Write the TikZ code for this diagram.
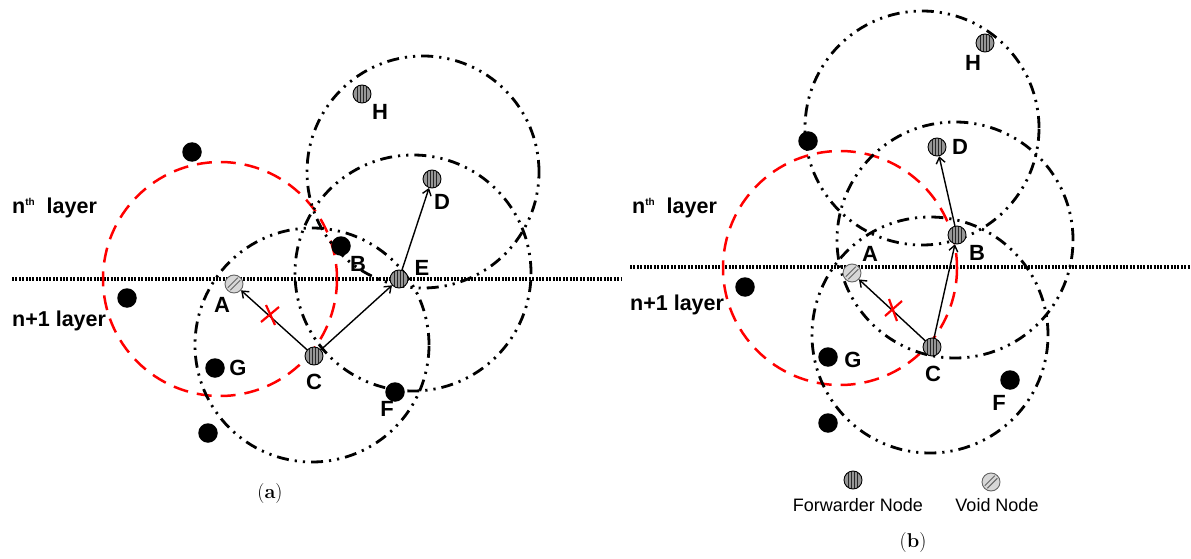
\documentclass[tikz,border=0pt]{standalone}
\usepackage{fontspec}
\newfontfamily\lab{Liberation Sans}
\usetikzlibrary{arrows.meta}
\definecolor{fwdgray}{RGB}{150,150,150}
\definecolor{voidgray}{RGB}{215,215,215}
\definecolor{voidline}{RGB}{100,100,100}
\begin{document}
\begin{tikzpicture}[x=1pt,y=-1pt,
 ddot/.style={line width=2.8pt, dash pattern=on 12pt off 6pt on 2.2pt off 6pt on 2.2pt off 6pt},
 reddash/.style={red, line width=2.5pt, dash pattern=on 15pt off 9pt},
 layerline/.style={line width=3.2pt, dash pattern=on 1.9pt off 1.5pt},
 fwd/.style={circle, draw=black, line width=0.9pt, fill=fwdgray, minimum size=18pt, inner sep=0pt,
   path picture={\foreach \xx in {-4.5,-1.5,1.5,4.5}{\draw[black!85,line width=1.6pt]
     ([xshift=\xx*1pt,yshift=-10pt]path picture bounding box.center) --
     ([xshift=\xx*1pt,yshift=10pt]path picture bounding box.center);}}},
 void/.style={circle, draw=voidline, line width=0.9pt, fill=voidgray, minimum size=18pt, inner sep=0pt,
   path picture={\foreach \dd in {-1.3,1.3}{\draw[voidline,line width=0.9pt]
     ([xshift=-5pt+\dd*1pt,yshift=-5pt-\dd*1pt]path picture bounding box.center) --
     ([xshift=5pt+\dd*1pt,yshift=5pt-\dd*1pt]path picture bounding box.center);}}},
 blk/.style={circle, fill=black, minimum size=19.5pt, inner sep=0pt},
 lbl/.style={font=\lab\bfseries\fontsize{22}{26}\selectfont, inner sep=0pt},
 layer/.style={font=\lab\bfseries\fontsize{21.5}{26}\selectfont, inner sep=0pt, anchor=base west},
 legend/.style={font=\lab\fontsize{18}{20}\selectfont, inner sep=0pt},
 capt/.style={font=\fontsize{20}{24}\selectfont, inner sep=0pt},
 arr/.style={line width=1.4pt, -{Straight Barb[length=6pt,width=9pt]}},
 xmark/.style={red, line width=2.2pt},
]
\useasboundingbox (0,0) rectangle (1191,559);

% ---------------- panel (a) ----------------
\draw[layerline] (12,279) -- (621,279);
\draw[reddash] (220,279) circle[radius=117pt];
\draw[ddot] (312,345) circle[radius=117pt];
\draw[ddot] (413,273) circle[radius=118pt];
\draw[ddot] (423,172) circle[radius=116pt];

\node[layer] (anth) at (12,213) {n\raisebox{8pt}{\fontsize{10}{10}\selectfont th}\ \ layer};
\node[layer] (anp1) at (12,326) {n+1 layer};

\node[void] (aA) at (234,284) {};
\node[blk] (aB) at (341,246) {};
\node[fwd] (aE) at (399,279) {};
\node[fwd] (aD) at (432,179) {};
\node[fwd] (aH) at (362,94) {};
\node[fwd] (aC) at (314,356) {};
\node[blk] (aG) at (215,368) {};
\node[blk] (aF) at (395,392) {};
\node[blk] (a1) at (192,152) {};
\node[blk] (a2) at (127,298) {};
\node[blk] (a3) at (208,433) {};

\node[lbl] (aAl) at (222,305) {A};
\node[lbl] (aBl) at (358,264) {B};
\node[lbl] (aEl) at (422,268) {E};
\node[lbl] (aDl) at (442,202) {D};
\node[lbl] (aHl) at (380,112) {H};
\node[lbl] (aCl) at (314,382) {C};
\node[lbl] (aGl) at (238,368) {G};
\node[lbl] (aFl) at (387,409) {F};

\draw[arr] (aC) -- (aA);
\draw[arr] (aC) -- (aE);
\draw[arr] (aE) -- (aD);
\draw[xmark] (261,322) -- (279,307);
\draw[xmark] (266,305) -- (275,325);

\node[capt] (capa) at (270,494) {(\textbf{a})};

% ---------------- panel (b) ----------------
\draw[layerline] (630,267) -- (1191,267);
\draw[reddash] (840,268) circle[radius=117pt];
\draw[ddot] (922,128) circle[radius=117pt];
\draw[ddot] (955,240) circle[radius=118pt];
\draw[ddot] (930,335) circle[radius=118pt];

\node[layer] (bnth) at (632,213) {n\raisebox{8pt}{\fontsize{10}{10}\selectfont th}\ \ layer};
\node[layer] (bnp1) at (630,310) {n+1 layer};

\node[fwd] (bH) at (985,43) {};
\node[fwd] (bD) at (937,147) {};
\node[fwd] (bB) at (957,235) {};
\node[void] (bA) at (852,273) {};
\node[fwd] (bC) at (932,347) {};
\node[blk] (bG) at (828,357) {};
\node[blk] (bF) at (1010,380) {};
\node[blk] (b1) at (808,141) {};
\node[blk] (b2) at (745,287) {};
\node[blk] (b3) at (828,423) {};

\node[lbl] (bHl) at (973,63) {H};
\node[lbl] (bDl) at (960,147) {D};
\node[lbl] (bBl) at (977,253) {B};
\node[lbl] (bAl) at (870,254) {A};
\node[lbl] (bCl) at (933,374) {C};
\node[lbl] (bGl) at (853,360) {G};
\node[lbl] (bFl) at (999,403) {F};

\draw[arr] (bC) -- (bA);
\draw[arr] (bC) -- (bB);
\draw[arr] (bB) -- (bD);
\draw[xmark] (885,316) -- (902,301);
\draw[xmark] (889,299) -- (897,321);

\node[fwd] (lf) at (853,480) {};
\node[legend] (lft) at (858,505) {Forwarder Node};
\node[void] (lv) at (991,482) {};
\node[legend] (lvt) at (997,505) {Void Node};

\node[capt] (capb) at (913,543) {(\textbf{b})};
\end{tikzpicture}
\end{document}
